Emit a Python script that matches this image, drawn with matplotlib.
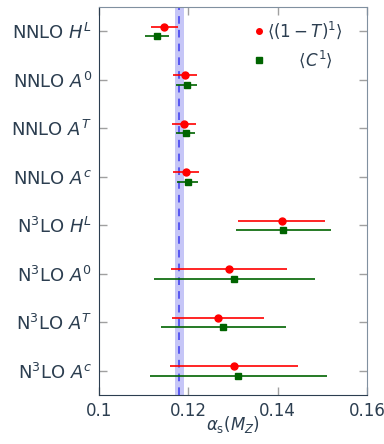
import numpy as np
import matplotlib
matplotlib.use('Agg')
import matplotlib.pyplot as plt
from matplotlib.lines import Line2D

labels = ['NNLO $H^L$', 'NNLO $A^0$', 'NNLO $A^T$', 'NNLO $A^c$',
          'N$^3$LO $H^L$', 'N$^3$LO $A^0$', 'N$^3$LO $A^T$', 'N$^3$LO $A^c$']

# <(1-T)^1>: central, low, high
t_val = [0.1146, 0.1193, 0.1190, 0.1194, 0.1409, 0.1291, 0.1266, 0.1301]
t_lo = [0.1116, 0.1166, 0.1163, 0.1166, 0.1312, 0.1162, 0.1164, 0.1158]
t_hi = [0.1177, 0.1220, 0.1217, 0.1223, 0.1505, 0.1420, 0.1369, 0.1445]

# <C^1>
c_val = [0.1130, 0.1197, 0.1194, 0.1198, 0.1412, 0.1302, 0.1277, 0.1312]
c_lo = [0.1103, 0.1172, 0.1172, 0.1175, 0.1306, 0.1122, 0.1139, 0.1114]
c_hi = [0.1157, 0.1219, 0.1215, 0.1221, 0.1519, 0.1483, 0.1418, 0.1510]

world_avg = 0.118
world_err = 0.001

txt = '#2c3e50'
plt.rcParams['font.family'] = ['DejaVu Sans']
plt.rcParams['mathtext.fontset'] = 'dejavusans'

fig = plt.figure(figsize=(3.84, 4.44), dpi=100)
ax = fig.add_axes([0.258, 0.11, 0.698, 0.874])

y = np.arange(len(labels))
t_val = np.array(t_val); c_val = np.array(c_val)
t_err = [t_val - np.array(t_lo), np.array(t_hi) - t_val]
c_err = [c_val - np.array(c_lo), np.array(c_hi) - c_val]

ax.axvspan(world_avg - world_err, world_avg + world_err, color='#c6c6f7', lw=0, zorder=0)
ax.axvline(world_avg, color='#3a3af0', ls=(0, (5, 4)), lw=1.1, zorder=1)

ax.errorbar(t_val, y - 0.1, xerr=t_err, fmt='o', color='red', ms=5, lw=1.2, capsize=0, zorder=3)
ax.errorbar(c_val, y + 0.1, xerr=c_err, fmt='s', color='#006400', ms=5, lw=1.2, capsize=0, zorder=3)

ax.set_xlim(0.1, 0.16)
ax.set_ylim(len(labels) - 0.5, -0.5)
ax.set_yticks(y)
ax.set_yticklabels(labels, fontsize=13, color=txt)
ax.set_xticks([0.1, 0.12, 0.14, 0.16])
ax.set_xticklabels(['0.1', '0.12', '0.14', '0.16'], fontsize=12, color=txt)
ax.set_xlabel(r'$\alpha_{\rm s}(M_Z)$', fontsize=12, color=txt)
ax.xaxis.set_label_coords(0.5, -0.075, transform=ax.transAxes)
ax.xaxis.label.set_va('center')
ax.tick_params(axis='both', which='both', top=True, right=True, direction='in',
               color='#a0a0a0', length=6, width=1)
ax.tick_params(axis='y', pad=5)
ax.tick_params(axis='x', pad=5)
for s in ['left', 'bottom']:
    ax.spines[s].set_color(txt)
for s in ['right', 'top']:
    ax.spines[s].set_color('#8090a0')

handles = [Line2D([], [], marker='o', color='red', ls='none', ms=4),
           Line2D([], [], marker='s', color='#006400', ls='none', ms=4)]
leg = ax.legend(handles, [r'$\langle(1-T)^1\rangle$', r'      $\langle C^1\rangle$'],
                loc='upper right', bbox_to_anchor=(0.935, 0.985), frameon=False,
                fontsize=12, handletextpad=0.0, handlelength=1.0, labelspacing=0.45,
                borderaxespad=0.0)
for t in leg.get_texts():
    t.set_color(txt)

fig.savefig('out.png', dpi=100)
